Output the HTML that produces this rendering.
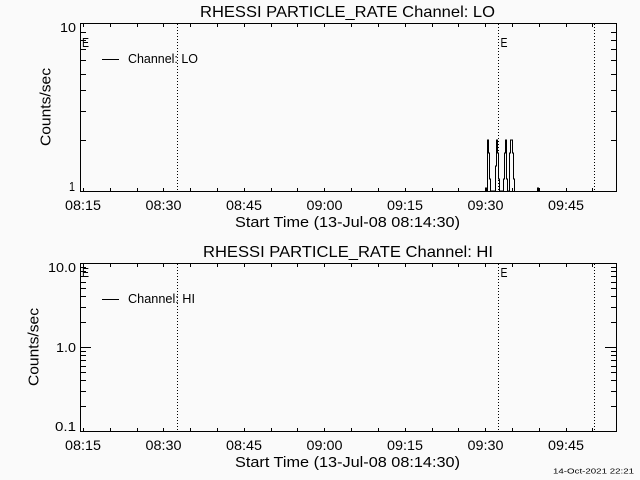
<!DOCTYPE html>
<html><head><meta charset="utf-8"><style>
html,body{margin:0;padding:0;background:#fafafa;}
svg{display:block;}
text{font-family:"Liberation Sans",sans-serif;fill:#000;}
</style></head><body>
<svg width="640" height="480" viewBox="0 0 640 480" xmlns="http://www.w3.org/2000/svg">
<rect width="640" height="480" fill="#fafafa"/>
<g stroke="#000" stroke-width="1" fill="none" shape-rendering="crispEdges">
<!-- top panel box -->
<rect x="80.5" y="23.5" width="536" height="168"/>
<!-- bottom panel box -->
<rect x="80.5" y="263.5" width="536" height="168"/>
<!-- x ticks top panel -->
<path d="M83.5,191V188M110.5,191V188M137.5,191V188M163.5,191V188M190.5,191V188M217.5,191V188M244.5,191V188M271.5,191V188M297.5,191V188M324.5,191V188M351.5,191V188M378.5,191V188M405.5,191V188M432.5,191V188M458.5,191V188M485.5,191V188M512.5,191V188M539.5,191V188M566.5,191V188M592.5,191V188
M83.5,24V27M110.5,24V27M137.5,24V27M163.5,24V27M190.5,24V27M217.5,24V27M244.5,24V27M271.5,24V27M297.5,24V27M324.5,24V27M351.5,24V27M378.5,24V27M405.5,24V27M432.5,24V27M458.5,24V27M485.5,24V27M512.5,24V27M539.5,24V27M566.5,24V27M592.5,24V27"/>
<!-- x ticks bottom panel -->
<path d="M83.5,431V428M110.5,431V428M137.5,431V428M163.5,431V428M190.5,431V428M217.5,431V428M244.5,431V428M271.5,431V428M297.5,431V428M324.5,431V428M351.5,431V428M378.5,431V428M405.5,431V428M432.5,431V428M458.5,431V428M485.5,431V428M512.5,431V428M539.5,431V428M566.5,431V428M592.5,431V428
M83.5,264V267M110.5,264V267M137.5,264V267M163.5,264V267M190.5,264V267M217.5,264V267M244.5,264V267M271.5,264V267M297.5,264V267M324.5,264V267M351.5,264V267M378.5,264V267M405.5,264V267M432.5,264V267M458.5,264V267M485.5,264V267M512.5,264V267M539.5,264V267M566.5,264V267M592.5,264V267"/>
<!-- y ticks top panel -->
<path d="M81,140.5H86M81,111.5H86M81,90.5H86M81,74.5H86M81,60.5H86M81,49.5H86M81,40.5H86M81,32.5H86
M616,140.5H611M616,111.5H611M616,90.5H611M616,74.5H611M616,60.5H611M616,49.5H611M616,40.5H611M616,32.5H611"/>
<!-- y ticks bottom panel -->
<path d="M81,406.5H86M81,391.5H86M81,380.5H86M81,372.5H86M81,366.5H86M81,360.5H86M81,355.5H86M81,351.5H86M81,347.5H91M81,322.5H86M81,307.5H86M81,296.5H86M81,288.5H86M81,282.5H86M81,276.5H86M81,271.5H86M81,267.5H86
M616,406.5H611M616,391.5H611M616,380.5H611M616,372.5H611M616,366.5H611M616,360.5H611M616,355.5H611M616,351.5H611M616,347.5H605M616,322.5H611M616,307.5H611M616,296.5H611M616,288.5H611M616,282.5H611M616,276.5H611M616,271.5H611M616,267.5H611"/>
<!-- dotted lines -->
<g stroke-dasharray="1 2">
<path d="M177.5,24V191M498.5,24V191M594.5,24V191"/>
<path d="M177.5,264V431M498.5,264V431M594.5,264V431"/>
</g>
<!-- legend lines -->
<path d="M102,59.5H119M102,299.5H119"/>
<!-- data -->
<polyline points="485.5,191 485.5,188 486.5,188 486.5,191 487.5,191 487.5,140 488.5,140 488.5,153 489.5,153 489.5,179 490.5,179 490.5,191 495.5,191 495.5,166 496.5,166 496.5,140 497.5,140 497.5,153 498.5,153 498.5,179 499.5,179 499.5,191 503.5,191 503.5,179 504.5,179 504.5,153 505.5,153 505.5,140 506.5,140 506.5,179 507.5,179 507.5,191 509.5,191 509.5,153 510.5,153 510.5,140 512.5,140 512.5,153 513.5,153 513.5,179 514.5,179 514.5,191"/>
<path d="M537.5,191V188H538.5V191"/>
</g>

<!-- titles -->
<text x="200" y="17" font-size="16" textLength="295" lengthAdjust="spacingAndGlyphs">RHESSI PARTICLE_RATE Channel: LO</text>
<text x="203" y="257" font-size="16" textLength="290" lengthAdjust="spacingAndGlyphs">RHESSI PARTICLE_RATE Channel: HI</text>

<!-- x tick labels top -->
<g font-size="13.5">
<text x="65" y="210" textLength="36" lengthAdjust="spacingAndGlyphs">08:15</text>
<text x="145.5" y="210" textLength="36" lengthAdjust="spacingAndGlyphs">08:30</text>
<text x="226" y="210" textLength="36" lengthAdjust="spacingAndGlyphs">08:45</text>
<text x="306.5" y="210" textLength="36" lengthAdjust="spacingAndGlyphs">09:00</text>
<text x="387" y="210" textLength="36" lengthAdjust="spacingAndGlyphs">09:15</text>
<text x="467.5" y="210" textLength="36" lengthAdjust="spacingAndGlyphs">09:30</text>
<text x="548" y="210" textLength="36" lengthAdjust="spacingAndGlyphs">09:45</text>
<text x="65" y="450" textLength="36" lengthAdjust="spacingAndGlyphs">08:15</text>
<text x="145.5" y="450" textLength="36" lengthAdjust="spacingAndGlyphs">08:30</text>
<text x="226" y="450" textLength="36" lengthAdjust="spacingAndGlyphs">08:45</text>
<text x="306.5" y="450" textLength="36" lengthAdjust="spacingAndGlyphs">09:00</text>
<text x="387" y="450" textLength="36" lengthAdjust="spacingAndGlyphs">09:15</text>
<text x="467.5" y="450" textLength="36" lengthAdjust="spacingAndGlyphs">09:30</text>
<text x="548" y="450" textLength="36" lengthAdjust="spacingAndGlyphs">09:45</text>
</g>

<!-- x titles -->
<text x="235" y="227" font-size="15" textLength="225" lengthAdjust="spacingAndGlyphs">Start Time (13-Jul-08 08:14:30)</text>
<text x="235" y="467" font-size="15" textLength="225" lengthAdjust="spacingAndGlyphs">Start Time (13-Jul-08 08:14:30)</text>

<!-- y titles -->
<text transform="translate(50.5,146) rotate(-90)" font-size="15" textLength="78" lengthAdjust="spacingAndGlyphs">Counts/sec</text>
<text transform="translate(38.5,386) rotate(-90)" font-size="15" textLength="78" lengthAdjust="spacingAndGlyphs">Counts/sec</text>

<!-- y tick labels -->
<g font-size="12.5">
<text x="60" y="32" textLength="16" lengthAdjust="spacingAndGlyphs">10</text>
<text x="69" y="191" textLength="6" lengthAdjust="spacingAndGlyphs">1</text>
<text x="48" y="272" textLength="28" lengthAdjust="spacingAndGlyphs">10.0</text>
<text x="56" y="352" textLength="20" lengthAdjust="spacingAndGlyphs">1.0</text>
<text x="55" y="431" textLength="21" lengthAdjust="spacingAndGlyphs">0.1</text>
</g>

<!-- legend text -->
<text x="128" y="63" font-size="13" textLength="70" lengthAdjust="spacingAndGlyphs">Channel: LO</text>
<text x="128" y="303" font-size="13" textLength="67" lengthAdjust="spacingAndGlyphs">Channel: HI</text>

<!-- E markers -->
<g font-size="13">
<text x="82" y="47" textLength="7" lengthAdjust="spacingAndGlyphs">E</text>
<text x="500.5" y="47" textLength="7" lengthAdjust="spacingAndGlyphs">E</text>
<text x="82" y="277" textLength="7" lengthAdjust="spacingAndGlyphs">E</text>
<text x="500.5" y="277" textLength="7" lengthAdjust="spacingAndGlyphs">E</text>
</g>

<!-- date stamp -->
<text x="553" y="473.5" font-size="7" textLength="81" lengthAdjust="spacingAndGlyphs">14-Oct-2021 22:21</text>
</svg>
</body></html>
